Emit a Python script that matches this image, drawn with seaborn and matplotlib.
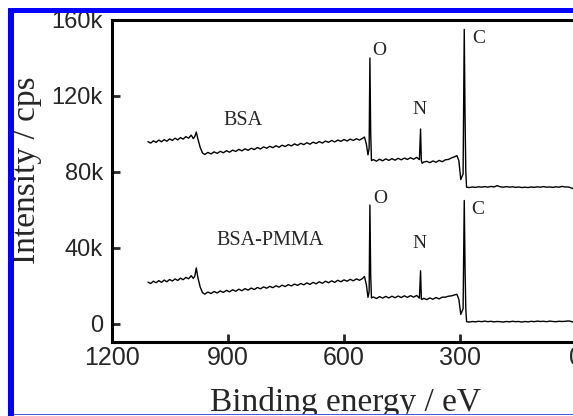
"""XPS survey spectra of BSA and BSA-PMMA (recreated)."""

import matplotlib
matplotlib.use("Agg")
import matplotlib.pyplot as plt
import numpy as np
import pandas as pd
import seaborn as sns
from matplotlib.patches import Rectangle
from matplotlib.ticker import FuncFormatter

energy = [
    1107, 1100, 1093, 1086, 1079, 1072, 1065, 1058, 1051, 1044, 1037, 1030,
    1023, 1016, 1009, 1002, 995, 990, 986, 982, 978, 972, 966, 960,
    952, 944, 936, 928, 920, 912, 904, 896, 888, 880, 872, 864,
    856, 848, 840, 832, 824, 816, 808, 800, 792, 784, 776, 768,
    760, 752, 744, 736, 728, 720, 712, 704, 696, 688, 680, 672,
    664, 656, 648, 640, 632, 624, 616, 608, 600, 592, 584, 576,
    568, 560, 553, 547, 542, 538, 535, 533, 531, 529, 524, 516,
    508, 500, 492, 484, 476, 468, 460, 452, 444, 436, 428, 420,
    412, 405, 402, 400, 398, 394, 386, 378, 370, 362, 354, 346,
    338, 330, 322, 314, 308, 303, 298, 292, 289, 287, 285, 283,
    276, 268, 260, 252, 244, 236, 228, 220, 212, 204, 196, 188,
    180, 172, 164, 156, 148, 140, 132, 124, 116, 108, 100, 92,
    84, 76, 68, 60, 52, 44, 36, 28, 20, 12, 6, 2,
]

# intensity in kcps, BSA trace
bsa = [
    96.0, 95.2, 96.4, 95.6, 96.8, 95.9, 97.0, 96.2, 97.4, 96.6, 97.8, 96.9,
    98.1, 97.3, 98.6, 97.8, 99.4, 97.6, 98.6, 101.0, 97.5, 93.0, 90.0, 89.2,
    90.3, 89.5, 90.6, 89.8, 90.9, 90.1, 91.2, 90.4, 91.5, 90.8, 91.9, 91.1,
    92.2, 91.4, 92.5, 91.8, 92.9, 92.1, 93.2, 92.5, 93.5, 92.8, 93.8, 93.0,
    94.1, 93.4, 94.4, 93.7, 94.8, 94.0, 95.1, 94.4, 95.4, 94.6, 95.7, 95.0,
    96.0, 95.2, 96.3, 95.6, 96.6, 95.8, 96.8, 96.1, 97.1, 96.3, 97.3, 96.6,
    97.5, 96.8, 97.6, 98.4, 94.5, 89.0, 92.5, 140.0, 101.0, 86.0, 86.5, 85.7,
    86.7, 85.9, 86.9, 86.1, 87.0, 86.2, 87.2, 86.4, 87.3, 86.6, 87.5, 86.7,
    87.7, 86.5, 102.6, 86.0, 84.6, 85.2, 85.6, 84.9, 85.8, 85.1, 86.1, 85.4,
    86.4, 86.6, 87.4, 88.0, 88.6, 86.0, 76.0, 79.0, 155.0, 110.0, 80.0, 72.0,
    71.8, 72.1, 71.9, 72.2, 72.0, 72.3, 72.0, 72.4, 72.1, 72.8, 72.2, 72.0,
    72.3, 72.0, 72.2, 71.9, 72.1, 71.8, 72.0, 71.8, 72.1, 71.9, 72.2, 72.0,
    72.3, 72.0, 72.1, 71.9, 72.2, 72.0, 72.4, 72.1, 72.1, 71.6, 71.0, 70.5,
]

# intensity in kcps, BSA-PMMA trace
bsa_pmma = [
    22.0, 21.3, 22.5, 21.7, 22.8, 21.9, 23.1, 22.2, 23.4, 22.6, 23.7, 22.9,
    24.1, 23.3, 24.5, 23.8, 25.4, 24.0, 25.0, 29.5, 24.5, 19.5, 16.5, 15.7,
    16.8, 16.0, 17.1, 16.3, 17.4, 16.6, 17.7, 16.9, 18.0, 17.2, 18.3, 17.5,
    18.6, 17.8, 18.9, 18.1, 19.2, 18.5, 19.5, 18.8, 19.8, 19.1, 20.1, 19.4,
    20.4, 19.7, 20.7, 20.0, 21.0, 20.3, 21.3, 20.6, 21.6, 20.8, 21.9, 21.1,
    22.2, 21.4, 22.5, 21.7, 22.7, 21.9, 23.0, 22.2, 23.2, 22.5, 23.5, 22.7,
    23.7, 23.0, 23.8, 25.0, 20.5, 14.0, 17.0, 62.6, 26.0, 13.7, 14.2, 13.4,
    14.4, 13.6, 14.5, 13.7, 14.6, 13.8, 14.7, 13.9, 14.8, 14.0, 14.9, 14.1,
    15.0, 13.6, 28.0, 13.2, 12.9, 13.5, 12.8, 13.7, 13.0, 13.9, 13.2, 14.1,
    14.1, 14.6, 14.8, 15.3, 15.6, 13.0, 5.0, 8.0, 65.0, 30.0, 8.0, 1.2,
    1.0, 1.3, 1.1, 1.4, 1.2, 1.5, 1.2, 1.4, 1.1, 1.3, 1.2, 1.0,
    1.3, 1.1, 1.4, 1.2, 1.3, 1.0, 1.3, 1.1, 1.4, 1.2, 1.5, 1.3,
    1.4, 1.2, 1.5, 1.3, 1.2, 1.4, 1.3, 1.4, 1.6, 1.3, 0.8, 0.4,
]

series_labels = ["BSA", "BSA-PMMA"]
peak_labels = ["O", "N", "C"]

assert len(energy) == len(bsa) == len(bsa_pmma), (len(energy), len(bsa), len(bsa_pmma))


def k_fmt(v, _pos):
    return "0" if v == 0 else f"{int(round(v / 1000))}k"


sns.set_style("ticks")

df = pd.concat(
    [
        pd.DataFrame({"energy": energy, "intensity": np.array(bsa) * 1000, "sample": "BSA"}),
        pd.DataFrame({"energy": energy, "intensity": np.array(bsa_pmma) * 1000, "sample": "BSA-PMMA"}),
    ],
    ignore_index=True,
)

W, H = 573, 416
AX_L, AX_T, AX_W, AX_H = 112, 20, 520, 322
fig = plt.figure(figsize=(W / 100, H / 100), dpi=100)
ax = fig.add_axes([AX_L / W, (H - AX_T - AX_H) / H, AX_W / W, AX_H / H])

sns.lineplot(
    data=df, x="energy", y="intensity", units="sample", estimator=None,
    sort=False, color="black", linewidth=1.0, ax=ax, legend=False,
)

ax.set_xlim(1200, 1200 - AX_W * 300 / 116)
ax.set_ylim(-9500, 160000)
ax.set_xticks([1200, 900, 600, 300, 0])
ax.set_yticks([0, 40000, 80000, 120000, 160000])
ax.yaxis.set_major_formatter(FuncFormatter(k_fmt))

tick_font = "Liberation Sans"
for lab in ax.get_yticklabels():
    lab.set_fontfamily(tick_font)
    lab.set_fontsize(17)
for lab in ax.get_xticklabels():
    lab.set_fontfamily(tick_font)
    lab.set_fontsize(18)
ax.tick_params(direction="in", length=6, width=2)
ax.tick_params(axis="y", pad=6.5)
ax.tick_params(axis="x", pad=3)

for side in ("left", "bottom", "top"):
    ax.spines[side].set_linewidth(2.2)
    ax.spines[side].set_color("black")
ax.spines["right"].set_visible(False)

serif = "Liberation Serif"
ax.set_xlabel("Binding energy / eV", fontfamily=serif, fontsize=24)
ax.xaxis.label.set_va("baseline")
ax.xaxis.set_label_coords((345 - AX_L) / AX_W, -(411.5 - AX_T - AX_H) / AX_H)
ax.set_ylabel("Intensity / cps", fontfamily=serif, fontsize=24)
ax.yaxis.label.set_va("center")
ax.yaxis.set_label_coords((27 - AX_L) / AX_W, (AX_T + AX_H - 170) / AX_H)

# sample and peak annotations
ax.text(861, 107000, series_labels[0], fontfamily=serif, fontsize=14.5, ha="center", va="center")
ax.text(791, 43700, series_labels[1], fontfamily=serif, fontsize=14.5, ha="center", va="center")
upper_pos = [(510, 143700), (406, 113000), (251, 150000)]
lower_pos = [(507, 66000), (404, 42600), (254, 60000)]
for lab, (x, y) in zip(peak_labels, upper_pos):
    ax.text(x, y, lab, fontfamily=serif, fontsize=14, ha="center", va="center")
for lab, (x, y) in zip(peak_labels, lower_pos):
    ax.text(x, y, lab, fontfamily=serif, fontsize=14, ha="center", va="center")


# blue frame of the cropped page
def px_rect(x0, y0, x1, y1, color):
    fig.add_artist(Rectangle((x0 / W, 1 - y1 / H), (x1 - x0) / W, (y1 - y0) / H,
                             transform=fig.transFigure, facecolor=color,
                             edgecolor="none", zorder=20))


px_rect(0, 0, W, 8, "white")
px_rect(0, 0, 8, H, "white")
px_rect(8, 8, W, 13, "#0000ff")
px_rect(8, 8, 14, H, "#0000ff")
px_rect(14, 413.5, W, 415, "#4a5adf")
px_rect(14, 415, W, H, "white")

fig.savefig("out.png", dpi=100)
